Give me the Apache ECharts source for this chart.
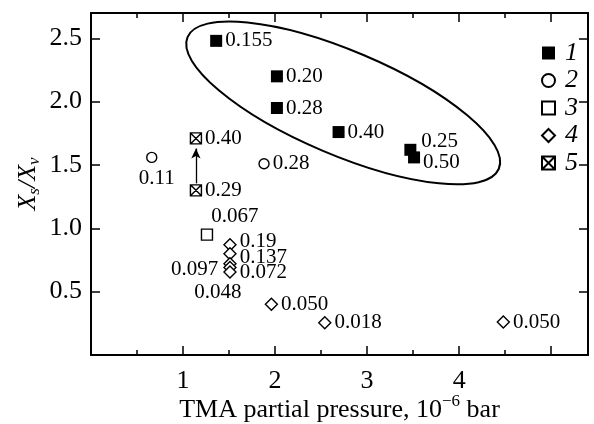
<!DOCTYPE html>
<html>
<head>
<meta charset="utf-8">
<script src="https://cdn.jsdelivr.net/npm/echarts@6/dist/echarts.min.js"></script>
<style>
html, body { margin: 0; padding: 0; background: #fff; }
#chart { width: 594px; height: 424px; }
</style>
</head>
<body>
<div id="chart"></div>
<script>
// 1: filled squares
var s1x = [1.36, 2.02, 2.02, 2.69, 3.47, 3.51];
var s1y = [2.48, 2.20, 1.95, 1.76, 1.62, 1.56];
var s1lab = ['0.155', '0.20', '0.28', '0.40', '0.25', '0.50'];
// 2: open circles
var s2x = [0.66, 1.88];
var s2y = [1.56, 1.51];
var s2lab = ['0.11', '0.28'];
// 3: open square
var s3x = [1.26];
var s3y = [0.95];
var s3lab = ['0.067'];
// 4: diamonds
var s4x = [1.51, 1.51, 1.51, 1.51, 1.51, 1.96, 2.54, 4.48];
var s4y = [0.87, 0.80, 0.72, 0.69, 0.655, 0.40, 0.255, 0.26];
var s4lab = ['0.19', '0.137', '0.097', '0.072', '0.048', '0.050', '0.018', '0.050'];
// 5: crossed squares
var s5x = [1.14, 1.14];
var s5y = [1.71, 1.30];
var s5lab = ['0.40', '0.29'];

// arrow 0.29 -> 0.40 and ellipse around series 1
var arrowFrom = [1.14, 1.355];
var arrowTo = [1.14, 1.63];
var ellipseCenter = [2.74, 1.99];

var xTicks = [1, 2, 3, 4];
var yTicks = [0.5, 1.0, 1.5, 2.0, 2.5];

var font = 'Liberation Serif';

// labels that do not sit straight to the right of their point
var labelPos = {
    '1-4': { offset: [0, -8], distance: 5 },
    '1-5': { offset: [0, 5], distance: 3 },
    '2-0': { position: 'bottom', offset: [5, 0], distance: 5 },
    '3-0': { position: 'top', offset: [28, 2], distance: 3 },
    '4-0': { offset: [0, -3] },
    '4-1': { offset: [0, 4] },
    '4-2': { position: 'left', offset: [0, 6], distance: 5 },
    '4-3': { offset: [0, 5] },
    '4-4': { position: 'bottom', offset: [-12, 0], distance: 3 }
};

function pts(id, xs, ys, labs) {
    return xs.map(function (x, i) {
        var item = { value: [x, ys[i]], name: labs[i] };
        if (labelPos[id + '-' + i]) item.label = labelPos[id + '-' + i];
        return item;
    });
}

var lbl = {
    show: true, position: 'right', distance: 3, formatter: '{b}',
    fontFamily: font, fontSize: 21, color: '#000'
};
var hollow = { color: '#fff', borderColor: '#000', borderWidth: 1.4, opacity: 1 };

function xAx(pos, major) {
    return {
        type: 'value', min: 0, max: 5.4, interval: major ? 1 : 0.5, position: pos,
        axisLine: { show: major, onZero: false, lineStyle: { color: '#000', width: 2 } },
        axisTick: { show: true, inside: true, length: major ? 9 : 5, lineStyle: { color: '#000', width: 1.5 } },
        axisLabel: { show: false },
        splitLine: { show: false }
    };
}
function yAx(pos) {
    return {
        type: 'value', min: 0, max: 2.7, interval: 0.5, position: pos,
        axisLine: { show: true, onZero: false, lineStyle: { color: '#000', width: 2 } },
        axisTick: { show: true, inside: true, length: 9, lineStyle: { color: '#000', width: 1.5 } },
        axisLabel: { show: false },
        splitLine: { show: false }
    };
}

var xBottom = xAx('bottom', true);
xBottom.axisLabel = {
    show: true, margin: 13, fontFamily: font, fontSize: 26, color: '#000',
    formatter: function (v) { return xTicks.indexOf(v) >= 0 ? String(v) : ''; }
};
xBottom.name = '{a|TMA partial pressure, 10}{b|\u22126}{a| bar}';
xBottom.nameLocation = 'middle';
xBottom.nameGap = 38;
xBottom.nameMoveOverlap = false;
xBottom.nameTextStyle = {
    rich: {
        a: { fontFamily: font, fontSize: 26, lineHeight: 30, verticalAlign: 'bottom', color: '#000' },
        b: { fontFamily: font, fontSize: 17, lineHeight: 17, verticalAlign: 'top', color: '#000' }
    }
};

var yLeft = yAx('left');
yLeft.axisLabel = {
    show: true, margin: 9, fontFamily: font, fontSize: 26, color: '#000',
    formatter: function (v) { return yTicks.indexOf(v) >= 0 ? v.toFixed(1) : ''; }
};
yLeft.name = '{i|X}{s|s}{i|/X}{s|v}';
yLeft.nameLocation = 'middle';
yLeft.nameGap = 50;
yLeft.nameMoveOverlap = false;
yLeft.nameTextStyle = {
    rich: {
        i: { fontFamily: font, fontStyle: 'italic', fontSize: 26, lineHeight: 26, verticalAlign: 'top', color: '#000' },
        s: { fontFamily: font, fontStyle: 'italic', fontSize: 17, lineHeight: 17, padding: [11, 0, 0, 0], verticalAlign: 'top', color: '#000' }
    }
};

var chart = echarts.init(document.getElementById('chart'));
var option = {
    backgroundColor: '#fff',
    animation: false,
    grid: { left: 91, right: 6, top: 13, bottom: 69, containLabel: false, outerBoundsMode: 'none' },
    xAxis: [xBottom, xAx('bottom', false), xAx('top', true), xAx('top', false)],
    yAxis: [yLeft, yAx('right')],
    legend: {
        data: ['1', '2', '3', '4', '5'],
        orient: 'vertical', left: 536, top: 35,
        itemWidth: 13, itemHeight: 13, itemGap: 1.5,
        selectedMode: false,
        textStyle: { fontFamily: font, fontStyle: 'italic', fontSize: 26, color: '#000', padding: [0, 0, 0, 5] }
    },
    series: [
        {
            type: 'custom', silent: true, clip: false, z: 1,
            data: [ellipseCenter],
            renderItem: function (params, api) {
                var c = api.coord([api.value(0), api.value(1)]);
                return {
                    type: 'ellipse', x: c[0], y: c[1], rotation: -0.40,
                    shape: { cx: 0, cy: 0, rx: 169, ry: 52 },
                    style: { fill: 'none', stroke: '#000', lineWidth: 2 }
                };
            }
        },
        {
            name: '1', type: 'scatter', symbol: 'rect', symbolSize: 12,
            itemStyle: { color: '#000', opacity: 1 }, label: lbl,
            data: pts(1, s1x, s1y, s1lab)
        },
        {
            name: '2', type: 'scatter', symbol: 'circle', symbolSize: 10,
            itemStyle: hollow, label: lbl,
            data: pts(2, s2x, s2y, s2lab)
        },
        {
            name: '3', type: 'scatter', symbol: 'rect', symbolSize: 11,
            itemStyle: hollow, label: lbl,
            data: pts(3, s3x, s3y, s3lab)
        },
        {
            name: '4', type: 'scatter', symbol: 'diamond', symbolSize: [12, 12],
            itemStyle: hollow, label: lbl,
            data: pts(4, s4x, s4y, s4lab)
        },
        {
            name: '5', type: 'scatter',
            symbol: 'path://M0,0L10,0L10,10L0,10ZM0,0L10,10M10,0L0,10', symbolSize: 11,
            itemStyle: hollow, label: lbl,
            data: pts(5, s5x, s5y, s5lab),
            markLine: {
                silent: true, symbol: ['none', 'arrow'], symbolSize: [7, 10],
                label: { show: false },
                lineStyle: { color: '#000', width: 1.3, type: 'solid' },
                data: [[{ coord: arrowFrom }, { coord: arrowTo }]]
            }
        }
    ]
};
chart.setOption(option);
</script>
</body>
</html>
